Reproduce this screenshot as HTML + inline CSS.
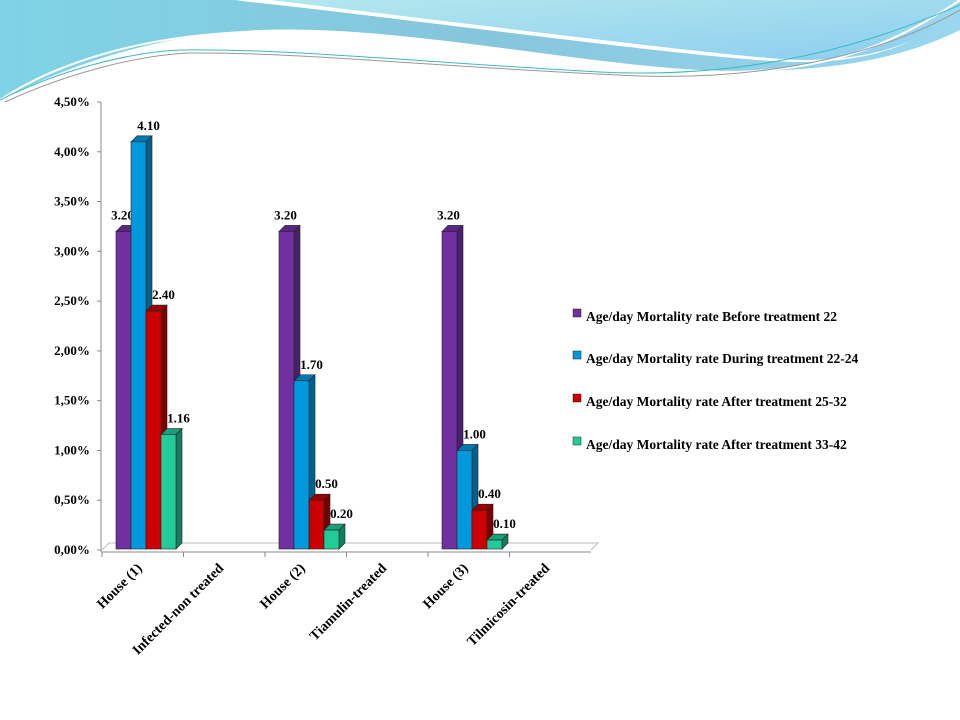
<!DOCTYPE html>
<html><head><meta charset="utf-8"><style>
html,body{margin:0;padding:0;background:#fff;}
svg{display:block;font-family:"Liberation Serif",serif;font-weight:bold;}
</style></head><body>
<svg width="960" height="720" viewBox="0 0 960 720">
<defs>
<linearGradient id="bg1" x1="0" y1="0" x2="1" y2="0"><stop offset="0" stop-color="#7fd3e6"/><stop offset="0.5" stop-color="#86c6dc"/><stop offset="1" stop-color="#9ad7ee"/></linearGradient>
<linearGradient id="bg2" x1="0" y1="0" x2="1" y2="1"><stop offset="0" stop-color="#b4e8ee"/><stop offset="1" stop-color="#8ccdef"/></linearGradient>
</defs>
<g>
<path d="M0,0 L960,0 L960,30 C900,60 820,75 700,70 C560,62 400,25 260,30 C140,35 50,75 0,100 Z" fill="url(#bg1)"/>
<path d="M700,0 L960,0 L960,25 C900,55 850,60 780,58 C720,55 500,35 470,40 Z" fill="#fff" opacity="0"/>
<path d="M230,0 L960,0 L960,5 C900,40 850,60 780,60 C720,58 560,30 420,0 Z" fill="url(#bg2)" opacity="0.0"/>
<path d="M235,0 L960,0 L960,8 C920,45 870,62 800,62 C720,62 420,20 250,2 Z" fill="#fff"/>
<path d="M250,0 L960,0 L960,10 C920,45 870,60 800,60 C740,58 520,30 270,0 Z" fill="url(#bg2)"/>
<path d="M0,100 C60,60 150,35 250,32 C400,28 560,68 700,72 C830,76 900,40 960,0" fill="none" stroke="#fff" stroke-width="2"/>
<path d="M0,100 C60,70 130,52 180,50 C280,48 420,62 600,72 C760,80 880,40 960,5" fill="none" stroke="#3bb9c9" stroke-width="1"/>
<path d="M5,102 C70,72 140,55 190,53 C300,52 450,68 640,76 C780,80 890,50 960,10" fill="none" stroke="#999" stroke-width="1"/>
</g>
<g id="plot"></g>
</svg>
<script>
const categories=["House (1)","Infected-non treated","House (2)","Tiamulin-treated","House (3)","Tilmicosin-treated"];
const seriesNames=["Age/day  Mortality rate  Before treatment  22","Age/day  Mortality rate  During treatment  22-24","Age/day  Mortality rate  After treatment  25-32","Age/day  Mortality rate  After treatment  33-42"];
const before=[3.20,null,3.20,null,3.20,null];
const during=[4.10,null,1.70,null,1.00,null];
const after1=[2.40,null,0.50,null,0.40,null];
const after2=[1.16,null,0.20,null,0.10,null];
const yTicks=["0,00%","0,50%","1,00%","1,50%","2,00%","2,50%","3,00%","3,50%","4,00%","4,50%"];
const series=[before,during,after1,after2];
const colors=[["#7030a0","#4a1f6b","#5a2585"],["#0099dd","#00608f","#0078b0"],["#cc0000","#7a0000","#990000"],["#22cc99","#128060","#18a07a"]];
const NS="http://www.w3.org/2000/svg";
const g=document.getElementById('plot');
const x0=102,x1=591,y0=550,yTop=102,maxV=4.5;
const y=v=>y0-(v/maxV)*(y0-yTop);
const slot=(x1-x0)/categories.length;
function mk(t,a){const e=document.createElementNS(NS,t);for(const k in a)e.setAttribute(k,a[k]);g.appendChild(e);return e;}
// floor
let e=mk('path',{d:`M${x0},${y0} L${x0+7},${y0-7} L${x1+7},${y0-7} L${x1},${y0}`,fill:'none',stroke:'#bbb'});


e=mk('line',{x1:x0-1,y1:yTop,x2:x0-1,y2:y0+2,stroke:'#888'});


e=mk('line',{x1:x0-1,y1:y0+2,x2:x1,y2:y0+2,stroke:'#888'});


yTicks.forEach((t,i)=>{const v=i*0.5,yy=y(v);
 let l=mk('line',{x1:x0-5,y1:yy,x2:x0-1,y2:yy,stroke:'#888'});
 
 
 let tx=mk('text',{x:x0-30,y:yy+4,'font-size':13,'text-anchor':'middle',fill:'#000'});tx.textContent=t;
 
 
});
categories.forEach((c,i)=>{const xs=x0+slot*i;
 let l=mk('line',{x1:xs,y1:y0+2,x2:xs,y2:y0+7,stroke:'#888'});
 
 
 const cx=xs+slot/2;
 let tx=mk('text',{x:cx,y:569,'font-size':14,'text-anchor':'end',transform:`rotate(-45 ${cx} 569)`});tx.textContent=c;
 
 
});
const bw=15,dx=6,dy=6;
series.forEach((s,si)=>{s.forEach((v,ci)=>{if(v==null)return;
 const bx=x0+slot*ci+14+si*bw,top=y(v),bot=y0-1;const [cf,cs,ct]=colors[si];
 let side=mk('path',{d:`M${bx+bw},${top} L${bx+bw+dx},${top-dy} L${bx+bw+dx},${bot-dy} L${bx+bw},${bot} Z`,fill:cs,stroke:'#222','stroke-width':0.6});
 
 
 let tp=mk('path',{d:`M${bx},${top} L${bx+dx},${top-dy} L${bx+bw+dx},${top-dy} L${bx+bw},${top} Z`,fill:ct,stroke:'#222','stroke-width':0.6});
 
 
 let r=mk('rect',{x:bx,y:top,width:bw,height:bot-top,fill:cf,stroke:'#222','stroke-width':0.6});
 
 
 let tx=mk('text',{x:bx+bw/2+(si==0?-1:10),y:top-12,'font-size':13,'text-anchor':'middle'});tx.textContent=v.toFixed(2);
 
 
});});
const ly=[316,358,401,444];
seriesNames.forEach((n,i)=>{
 let r=mk('rect',{x:573,y:ly[i]-7,width:8,height:8,fill:colors[i][0],stroke:'#222','stroke-width':0.5});
 
 
 let tx=mk('text',{x:586,y:ly[i]+5,'font-size':13.5});tx.textContent=n;
 
 
});
</script>
</body></html>
